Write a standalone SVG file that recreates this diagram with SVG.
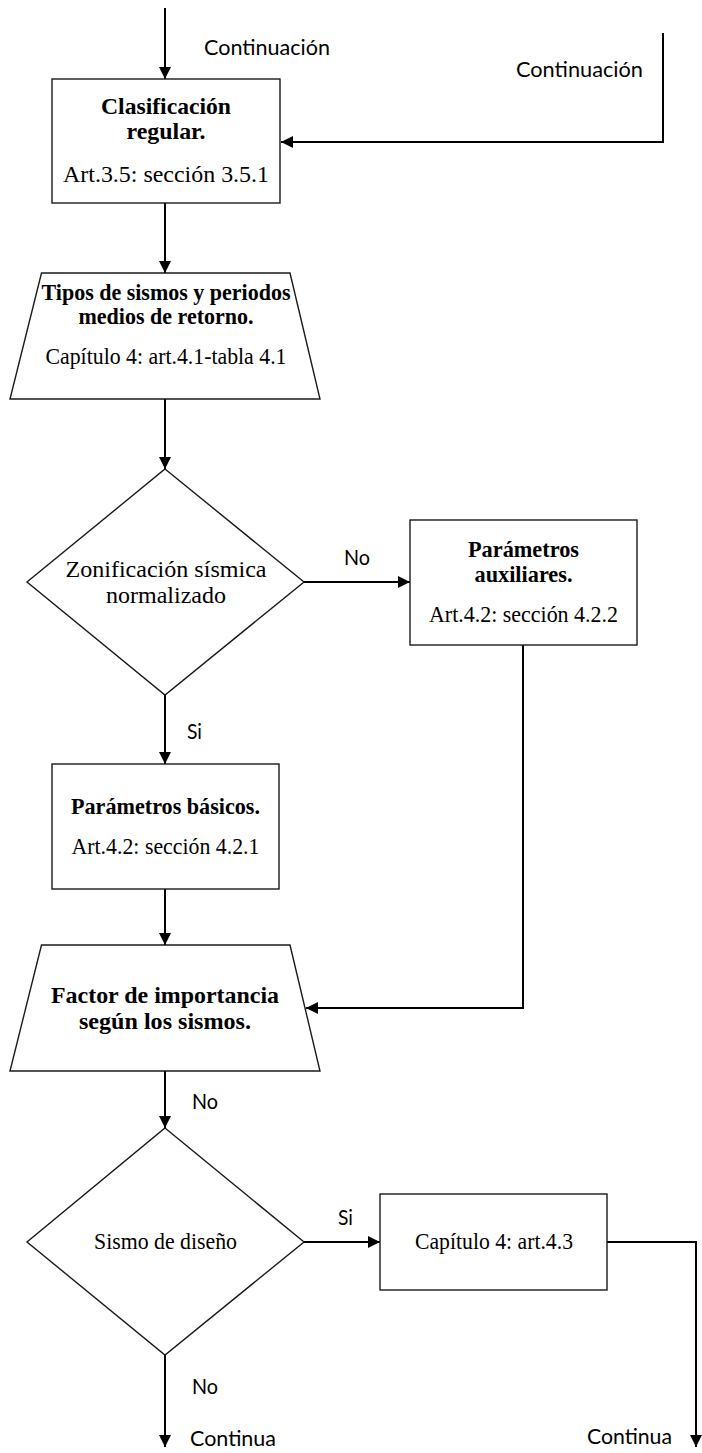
<svg xmlns="http://www.w3.org/2000/svg" width="702" height="1453" viewBox="0 0 702 1453">
  <style>
    .shape { fill: #ffffff; stroke: #1a1a1a; stroke-width: 1.4; }
    .conn { fill: none; stroke: #000000; stroke-width: 2; }
    .t { font-family: "Liberation Serif", "Times New Roman", serif; font-size: 23.5px; fill: #000; text-anchor: middle; }
    .b { font-weight: bold; }
    .lbl { font-family: "Lato", "Liberation Sans", sans-serif; font-size: 21px; fill: #000; }
  </style>
  <defs>
    <marker id="ah" viewBox="0 0 12 12" refX="12" refY="6" markerWidth="12" markerHeight="12" markerUnits="userSpaceOnUse" orient="auto">
      <path d="M0,0 L12,6 L0,12 z" fill="#000"/>
    </marker>
  </defs>

  <!-- connectors -->
  <g id="connectors">
    <path class="conn" d="M165,8 V79" marker-end="url(#ah)"/>
    <path class="conn" d="M663,33 V142 H281" marker-end="url(#ah)"/>
    <path class="conn" d="M165,203 V273" marker-end="url(#ah)"/>
    <path class="conn" d="M165,399 V469" marker-end="url(#ah)"/>
    <path class="conn" d="M304,582 H410" marker-end="url(#ah)"/>
    <path class="conn" d="M165,695 V764" marker-end="url(#ah)"/>
    <path class="conn" d="M523,645 V1008 H306" marker-end="url(#ah)"/>
    <path class="conn" d="M165,889 V945" marker-end="url(#ah)"/>
    <path class="conn" d="M165,1071 V1128" marker-end="url(#ah)"/>
    <path class="conn" d="M304,1242 H380" marker-end="url(#ah)"/>
    <path class="conn" d="M607,1242 H696 V1447" marker-end="url(#ah)"/>
    <path class="conn" d="M165,1355 V1447" marker-end="url(#ah)"/>

    <text class="lbl" x="204" y="55" textLength="126" lengthAdjust="spacingAndGlyphs">Continuación</text>
    <text class="lbl" x="516" y="77" textLength="127" lengthAdjust="spacingAndGlyphs">Continuación</text>
    <text class="lbl" x="344" y="565" textLength="26" lengthAdjust="spacingAndGlyphs">No</text>
    <text class="lbl" x="187" y="739" textLength="15" lengthAdjust="spacingAndGlyphs">Si</text>
    <text class="lbl" x="192" y="1109" textLength="26" lengthAdjust="spacingAndGlyphs">No</text>
    <text class="lbl" x="338" y="1225" textLength="15" lengthAdjust="spacingAndGlyphs">Si</text>
    <text class="lbl" x="192" y="1394" textLength="26" lengthAdjust="spacingAndGlyphs">No</text>
    <text class="lbl" x="190" y="1446" textLength="86" lengthAdjust="spacingAndGlyphs">Continua</text>
    <text class="lbl" x="587" y="1444" textLength="85" lengthAdjust="spacingAndGlyphs">Continua</text>
  </g>

  <g id="clasificacion">
    <rect class="shape" x="52" y="79" width="228" height="124"/>
    <text class="t b" x="166" y="114" textLength="130" lengthAdjust="spacingAndGlyphs">Clasificación</text>
    <text class="t b" x="166" y="139" textLength="79" lengthAdjust="spacingAndGlyphs">regular.</text>
    <text class="t" x="166" y="182" textLength="206" lengthAdjust="spacingAndGlyphs">Art.3.5: sección 3.5.1</text>
  </g>

  <g id="tipos-sismos">
    <polygon class="shape" points="41.5,273 290,273 320,399 10,399"/>
    <text class="t b" x="166" y="300" textLength="249" lengthAdjust="spacingAndGlyphs">Tipos de sismos y periodos</text>
    <text class="t b" x="166" y="324" textLength="175" lengthAdjust="spacingAndGlyphs">medios de retorno.</text>
    <text class="t" x="166" y="364" textLength="241" lengthAdjust="spacingAndGlyphs">Capítulo 4: art.4.1-tabla 4.1</text>
  </g>

  <g id="zonificacion">
    <polygon class="shape" points="165,469 304,582 165,695 27,582"/>
    <text class="t" x="166" y="577" textLength="201" lengthAdjust="spacingAndGlyphs">Zonificación sísmica</text>
    <text class="t" x="166" y="603" textLength="120" lengthAdjust="spacingAndGlyphs">normalizado</text>
  </g>

  <g id="parametros-auxiliares">
    <rect class="shape" x="410" y="520" width="227" height="125"/>
    <text class="t b" x="523.5" y="557" textLength="111" lengthAdjust="spacingAndGlyphs">Parámetros</text>
    <text class="t b" x="523.5" y="582" textLength="98" lengthAdjust="spacingAndGlyphs">auxiliares.</text>
    <text class="t" x="523.5" y="622" textLength="189" lengthAdjust="spacingAndGlyphs">Art.4.2: sección 4.2.2</text>
  </g>

  <g id="parametros-basicos">
    <rect class="shape" x="52" y="764" width="227" height="125"/>
    <text class="t b" x="165.5" y="814" textLength="189" lengthAdjust="spacingAndGlyphs">Parámetros básicos.</text>
    <text class="t" x="165.5" y="854" textLength="188" lengthAdjust="spacingAndGlyphs">Art.4.2: sección 4.2.1</text>
  </g>

  <g id="factor-importancia">
    <polygon class="shape" points="41.5,945 290,945 320,1071 10,1071"/>
    <text class="t b" x="165" y="1003" textLength="228" lengthAdjust="spacingAndGlyphs">Factor de importancia</text>
    <text class="t b" x="165" y="1029" textLength="172" lengthAdjust="spacingAndGlyphs">según los sismos.</text>
  </g>

  <g id="sismo-diseno">
    <polygon class="shape" points="165,1128 304,1242 165,1355 27,1242"/>
    <text class="t" x="165.5" y="1249" textLength="143" lengthAdjust="spacingAndGlyphs">Sismo de diseño</text>
  </g>

  <g id="capitulo-4-3">
    <rect class="shape" x="380" y="1194" width="227" height="96"/>
    <text class="t" x="494" y="1249" textLength="158" lengthAdjust="spacingAndGlyphs">Capítulo 4: art.4.3</text>
  </g>
</svg>
